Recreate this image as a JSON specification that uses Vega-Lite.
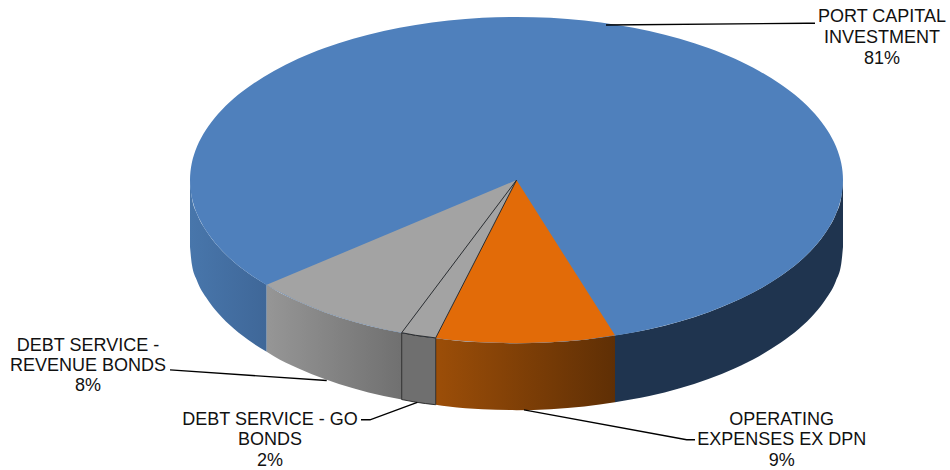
{
"$schema":"https://vega.github.io/schema/vega-lite/v6.json",
"width":950,"height":470,"padding":0,
"autosize":{"type":"fit","contains":"padding"},
"background":"white",
"config":{"view":{"stroke":null}},
"datasets":{
"topBlue":[
{"seq":0,"x":843.0,"y":180.5},{"seq":1,"x":841.2,"y":197.6},{"seq":2,"x":835.9,"y":214.5},{"seq":3,"x":827.0,"y":231.0},{"seq":4,"x":814.8,"y":247.0},{"seq":5,"x":799.3,"y":262.3},{"seq":6,"x":780.6,"y":276.6},{"seq":7,"x":759.1,"y":289.9},{"seq":8,"x":735.0,"y":302.0},{"seq":9,"x":708.4,"y":312.8},{"seq":10,"x":679.8,"y":322.1},{"seq":11,"x":649.3,"y":329.9},{"seq":12,"x":617.4,"y":336.0},{"seq":13,"x":584.4,"y":340.4},{"seq":14,"x":550.6,"y":343.1},{"seq":15,"x":516.5,"y":344.0},{"seq":16,"x":482.4,"y":343.1},{"seq":17,"x":448.6,"y":340.4},{"seq":18,"x":415.6,"y":336.0},{"seq":19,"x":383.7,"y":329.9},{"seq":20,"x":353.2,"y":322.1},{"seq":21,"x":324.6,"y":312.8},{"seq":22,"x":298.0,"y":302.0},{"seq":23,"x":273.9,"y":289.9},{"seq":24,"x":252.4,"y":276.6},{"seq":25,"x":233.7,"y":262.3},{"seq":26,"x":218.2,"y":247.0},{"seq":27,"x":206.0,"y":231.0},{"seq":28,"x":197.1,"y":214.5},{"seq":29,"x":191.8,"y":197.6},{"seq":30,"x":190.0,"y":180.5},{"seq":31,"x":191.8,"y":163.4},{"seq":32,"x":197.1,"y":146.5},{"seq":33,"x":206.0,"y":130.0},{"seq":34,"x":218.2,"y":114.0},{"seq":35,"x":233.7,"y":98.7},{"seq":36,"x":252.4,"y":84.4},{"seq":37,"x":273.9,"y":71.1},{"seq":38,"x":298.0,"y":59.0},{"seq":39,"x":324.6,"y":48.2},{"seq":40,"x":353.2,"y":38.9},{"seq":41,"x":383.7,"y":31.1},{"seq":42,"x":415.6,"y":25.0},{"seq":43,"x":448.6,"y":20.6},{"seq":44,"x":482.4,"y":17.9},{"seq":45,"x":516.5,"y":17.0},{"seq":46,"x":550.6,"y":17.9},{"seq":47,"x":584.4,"y":20.6},{"seq":48,"x":617.4,"y":25.0},{"seq":49,"x":649.3,"y":31.1},{"seq":50,"x":679.8,"y":38.9},{"seq":51,"x":708.4,"y":48.2},{"seq":52,"x":735.0,"y":59.0},{"seq":53,"x":759.1,"y":71.1},{"seq":54,"x":780.6,"y":84.4},{"seq":55,"x":799.3,"y":98.7},{"seq":56,"x":814.8,"y":114.0},{"seq":57,"x":827.0,"y":130.0},{"seq":58,"x":835.9,"y":146.5},{"seq":59,"x":841.2,"y":163.4}
],
"sides":[
{"part":"blueRight","x":615.0,"y":336.0,"y2":403.0},{"part":"blueRight","x":649.3,"y":329.9,"y2":396.9},{"part":"blueRight","x":679.8,"y":322.1,"y2":389.1},{"part":"blueRight","x":708.4,"y":312.8,"y2":379.8},{"part":"blueRight","x":735.0,"y":302.0,"y2":369.0},{"part":"blueRight","x":759.1,"y":289.9,"y2":356.9},{"part":"blueRight","x":780.6,"y":276.6,"y2":343.6},{"part":"blueRight","x":799.3,"y":262.3,"y2":329.3},{"part":"blueRight","x":814.8,"y":247.0,"y2":314.0},{"part":"blueRight","x":827.0,"y":231.0,"y2":298.0},{"part":"blueRight","x":835.9,"y":214.5,"y2":281.5},{"part":"blueRight","x":841.2,"y":197.6,"y2":264.6},{"part":"blueRight","x":843.0,"y":180.5,"y2":247.5},
{"part":"blueLeft","x":190.0,"y":180.5,"y2":247.5},{"part":"blueLeft","x":191.8,"y":197.6,"y2":264.6},{"part":"blueLeft","x":197.1,"y":214.5,"y2":281.5},{"part":"blueLeft","x":206.0,"y":231.0,"y2":298.0},{"part":"blueLeft","x":218.2,"y":247.0,"y2":314.0},{"part":"blueLeft","x":233.7,"y":262.3,"y2":329.3},{"part":"blueLeft","x":252.4,"y":276.6,"y2":343.6},{"part":"blueLeft","x":266.7,"y":285.4,"y2":352.4},
{"part":"orange","x":435.7,"y":338.6,"y2":405.6},{"part":"orange","x":448.6,"y":340.4,"y2":407.4},{"part":"orange","x":482.4,"y":343.1,"y2":410.1},{"part":"orange","x":516.5,"y":344.0,"y2":411.0},{"part":"orange","x":550.6,"y":343.1,"y2":410.1},{"part":"orange","x":584.4,"y":340.4,"y2":407.4},{"part":"orange","x":615.0,"y":336.0,"y2":403.0},
{"part":"grey","x":266.7,"y":285.4,"y2":352.4},{"part":"grey","x":273.9,"y":289.9,"y2":356.9},{"part":"grey","x":298.0,"y":302.0,"y2":369.0},{"part":"grey","x":324.6,"y":312.8,"y2":379.8},{"part":"grey","x":353.2,"y":322.1,"y2":389.1},{"part":"grey","x":383.7,"y":329.9,"y2":396.9},{"part":"grey","x":401.7,"y":333.4,"y2":400.4},
{"part":"small","x":401.7,"y":333.4,"y2":400.4},{"part":"small","x":415.6,"y":336.0,"y2":403.0},{"part":"small","x":435.7,"y":338.6,"y2":405.6}
],
"faces":[
{"part":"orange","seq":0,"x":516.5,"y":180.5},{"part":"orange","seq":1,"x":615.0,"y":336.0},{"part":"orange","seq":2,"x":584.4,"y":340.4},{"part":"orange","seq":3,"x":550.6,"y":343.1},{"part":"orange","seq":4,"x":516.5,"y":344.0},{"part":"orange","seq":5,"x":482.4,"y":343.1},{"part":"orange","seq":6,"x":448.6,"y":340.4},{"part":"orange","seq":7,"x":435.7,"y":338.6},
{"part":"grey","seq":0,"x":516.5,"y":180.5},{"part":"grey","seq":1,"x":401.7,"y":333.4},{"part":"grey","seq":2,"x":383.7,"y":329.9},{"part":"grey","seq":3,"x":353.2,"y":322.1},{"part":"grey","seq":4,"x":324.6,"y":312.8},{"part":"grey","seq":5,"x":298.0,"y":302.0},{"part":"grey","seq":6,"x":273.9,"y":289.9},{"part":"grey","seq":7,"x":266.7,"y":285.4},
{"part":"small","seq":0,"x":516.5,"y":180.5},{"part":"small","seq":1,"x":435.7,"y":338.6},{"part":"small","seq":2,"x":415.6,"y":336.0},{"part":"small","seq":3,"x":401.7,"y":333.4},{"part":"small","seq":4,"x":516.5,"y":180.5}
],
"leaders":[
{"part":"port","seq":0,"x":606,"y":25},{"part":"port","seq":1,"x":807,"y":23.3},{"part":"port","seq":2,"x":815,"y":23.3},
{"part":"revenue","seq":0,"x":170,"y":370.7},{"part":"revenue","seq":1,"x":326.7,"y":381.3},
{"part":"go","seq":0,"x":361,"y":420.7},{"part":"go","seq":1,"x":370,"y":420.7},{"part":"go","seq":2,"x":417.3,"y":403.3},
{"part":"operating","seq":0,"x":524,"y":410.7},{"part":"operating","seq":1,"x":686.7,"y":440.7},{"part":"operating","seq":2,"x":695,"y":440.7}
],
"labels":[
{"text":"PORT CAPITAL","x":882,"y":22},{"text":"INVESTMENT","x":882,"y":43.5},{"text":"81%","x":882,"y":64.5},
{"text":"DEBT SERVICE -","x":88,"y":351.7},{"text":"REVENUE BONDS","x":88,"y":371.5},{"text":"8%","x":88,"y":392},
{"text":"DEBT SERVICE - GO","x":270,"y":426},{"text":"BONDS","x":270,"y":446},{"text":"2%","x":270,"y":466.7},
{"text":"OPERATING","x":781.7,"y":426},{"text":"EXPENSES EX DPN","x":781.7,"y":446},{"text":"9%","x":781.7,"y":466.7}
]
},
"encoding":{
"x":{"field":"x","type":"quantitative","axis":null,"scale":{"domain":[0,950],"nice":false,"zero":false}},
"y":{"field":"y","type":"quantitative","axis":null,"scale":{"domain":[470,0],"nice":false,"zero":false}}
},
"layer":[
{"data":{"name":"sides"},"transform":[{"filter":"datum.part==='blueRight'"}],"mark":{"type":"area","interpolate":"monotone","fill":"#1f344f","strokeWidth":0},"encoding":{"y2":{"field":"y2"}}},
{"data":{"name":"sides"},"transform":[{"filter":"datum.part==='blueLeft'"}],"mark":{"type":"area","interpolate":"monotone","strokeWidth":0,"fill":{"gradient":"linear","x1":0,"x2":1,"y1":0,"y2":0,"stops":[{"offset":0,"color":"#4876ab"},{"offset":1,"color":"#3f6798"}]}},"encoding":{"y2":{"field":"y2"}}},
{"data":{"name":"sides"},"transform":[{"filter":"datum.part==='orange'"}],"mark":{"type":"area","interpolate":"monotone","strokeWidth":0,"fill":{"gradient":"linear","x1":0,"x2":1,"y1":0,"y2":0,"stops":[{"offset":0,"color":"#9c4e08"},{"offset":1,"color":"#5f2f05"}]}},"encoding":{"y2":{"field":"y2"}}},
{"data":{"name":"sides"},"transform":[{"filter":"datum.part==='grey'"}],"mark":{"type":"area","interpolate":"monotone","strokeWidth":0,"fill":{"gradient":"linear","x1":0,"x2":1,"y1":0,"y2":0,"stops":[{"offset":0,"color":"#969696"},{"offset":1,"color":"#707070"}]}},"encoding":{"y2":{"field":"y2"}}},
{"data":{"name":"sides"},"transform":[{"filter":"datum.part==='small'"}],"mark":{"type":"area","interpolate":"monotone","fill":"#6f6f6f","stroke":"#222222","strokeWidth":0.9},"encoding":{"y2":{"field":"y2"}}},
{"data":{"name":"topBlue"},"mark":{"type":"line","interpolate":"cardinal-closed","fill":"#4f80bc","strokeWidth":0},"encoding":{"order":{"field":"seq"}}},
{"data":{"name":"faces"},"transform":[{"filter":"datum.part==='orange'"}],"mark":{"type":"line","fill":"#e26b08","strokeWidth":0},"encoding":{"order":{"field":"seq"}}},
{"data":{"name":"faces"},"transform":[{"filter":"datum.part==='grey'"}],"mark":{"type":"line","fill":"#a3a3a3","strokeWidth":0},"encoding":{"order":{"field":"seq"}}},
{"data":{"name":"faces"},"transform":[{"filter":"datum.part==='small'"}],"mark":{"type":"line","fill":"#a3a3a3","stroke":"#222222","strokeWidth":0.9},"encoding":{"order":{"field":"seq"}}},
{"data":{"name":"leaders"},"mark":{"type":"line","stroke":"#000000","strokeWidth":1.4},"encoding":{"detail":{"field":"part"},"order":{"field":"seq"}}},
{"data":{"name":"labels"},"mark":{"type":"text","font":"Liberation Sans","fontSize":18,"fill":"#111111","align":"center","baseline":"alphabetic"},"encoding":{"text":{"field":"text"}}}
]
}
